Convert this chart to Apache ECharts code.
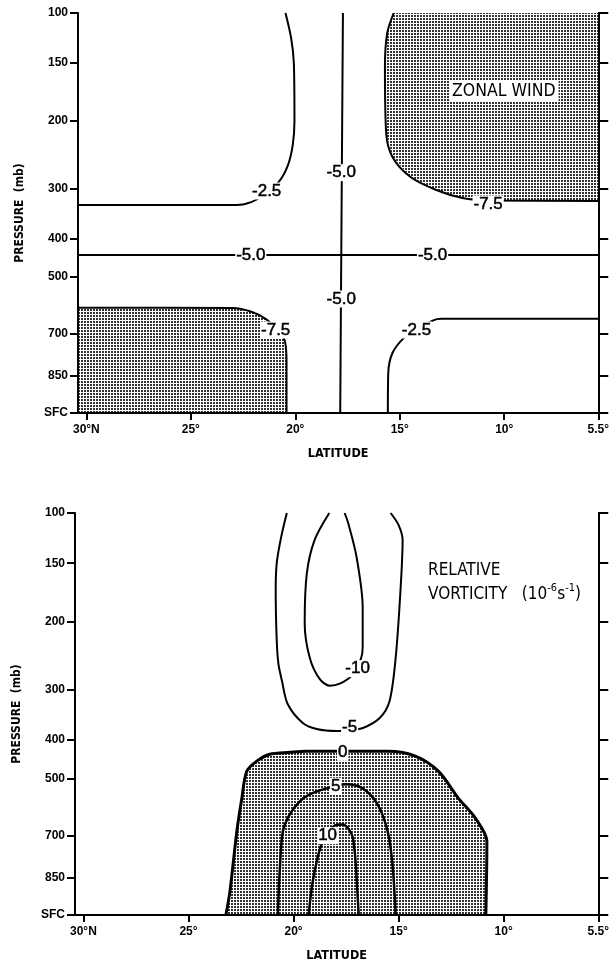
<!DOCTYPE html>
<html><head><meta charset="utf-8">
<script src="https://cdn.jsdelivr.net/npm/echarts@6/dist/echarts.min.js"></script>
<style>html,body{margin:0;padding:0;background:#fff}#c{width:612px;height:965px}</style>
</head><body><div id="c"></div>
<script>
// ---- vertical levels (pressure, label, chart height coordinate) ----
const levelPressure = [100,150,200,300,400,500,700,850,1000];
const levelLabels   = ['100','150','200','300','400','500','700','850','SFC'];
const levelHeight   = [16.5,14.44,12.05,9.24,7.18,5.61,3.26,1.53,0];
const latTicks = [30,25,20,15,10,5.5];

// ---- ZONAL WIND contours, points [latitude, pressure mb] ----
const uM25Upper = [[20.47,100],[20.2,125],[20.07,150],[20.04,200],[20.12,235],[20.35,265],[20.8,290],[21.4,305],[21.8,320],[22.4,330],[23.0,332],[30.4,332]];
const uM5Vert   = [[17.72,100],[17.8,442],[17.85,1000]];
const uM5Horiz  = [[30.4,442],[5.5,442]];
const uM75Upper = [[15.29,100],[15.6,120],[15.71,153],[15.65,218],[15.35,253],[14.5,282],[13.25,302],[12.0,318],[10.8,323],[5.5,324]];
const uM75Lower = [[30.4,608],[23.0,609],[22.1,622],[21.4,648],[20.85,685],[20.5,725],[20.42,800],[20.42,1000]];
const uM25Lower = [[5.5,647],[13.0,647],[13.4,652],[14.2,685],[14.8,714],[15.35,768],[15.55,839],[15.57,1000]];
const windLabels = [[21.37,304,'-2.5'],[17.8,276,'-5.0'],[22.13,442,'-5.0'],[13.43,442,'-5.0'],[17.8,577,'-5.0'],[10.77,330,'-7.5'],[20.94,686,'-7.5'],[14.2,686,'-2.5']];

// ---- RELATIVE VORTICITY contours ----
const vM10 = [[18.3,100],[19.0,127],[19.37,159],[19.47,203],[19.23,253],[18.76,284],[18.28,294],[17.8,291],[17.2,278],[16.8,255],[16.71,238],[16.71,188],[17.0,144],[17.4,110],[17.57,100]];
const vM5  = [[20.32,100],[20.6,125],[20.8,150],[20.85,173],[20.8,228],[20.72,262],[20.55,287],[20.28,328],[19.56,366],[18.9,378],[17.95,382],[17.3,380],[16.7,376],[15.9,356],[15.43,322],[15.14,253],[14.91,173],[14.81,127],[15.0,112],[15.38,100]];
const vZero = [[23.22,1000],[23.03,907],[22.7,686],[22.46,570],[22.23,482],[21.75,455],[21.13,437],[20.18,432],[19.42,429],[17.66,429],[15.48,429],[14.2,442],[13.1,482],[12.15,570],[11.34,640],[10.8,721],[10.85,1000]];
const vFive = [[20.75,1000],[20.66,829],[20.51,686],[20.18,626],[19.71,581],[19.23,556],[18.42,535],[17.52,521],[16.71,535],[16.0,591],[15.52,686],[15.29,804],[15.14,1000]];
const vTen  = [[19.28,1000],[19.09,866],[18.71,739],[18.38,700],[18.04,665],[17.66,661],[17.23,696],[17.09,757],[17.0,850],[16.9,1000]];
const vortLabels = [[16.95,269,'-10'],[17.33,374,'-5'],[17.66,432,'0'],[17.99,528,'5'],[18.38,700,'10']];

// pressure -> chart height coordinate (axis transform)
function pToH(p){
  for(let i=0;i<levelPressure.length-1;i++){
    const a=levelPressure[i], b=levelPressure[i+1];
    if(p>=a && p<=b){ const t=(p-a)/(b-a); return levelHeight[i]+t*(levelHeight[i+1]-levelHeight[i]); }
  }
  return p<100?levelHeight[0]:0;
}

// stipple pattern
const pc=document.createElement('canvas'); pc.width=3; pc.height=3;
const g=pc.getContext('2d'); g.fillStyle='#fff'; g.fillRect(0,0,3,3);
g.fillStyle='#333'; g.fillRect(0,0,2,2);
const stipple={image:pc, repeat:'repeat'};

const NARROW="'Liberation Sans Narrow','DejaVu Sans Condensed',sans-serif";
const SANS="'Liberation Sans',Arial,sans-serif";
const INK='#000';

function lineS(gi, pts, w){
  return {type:'line', xAxisIndex:gi*2, yAxisIndex:gi*2, data:pts.map(p=>[p[0],pToH(p[1])]),
    symbol:'none', smooth:0.3, silent:true, animation:false, z:3,
    lineStyle:{color:INK, width:w||2}};
}
function polyS(gi, pts, closing){
  const all=pts.concat(closing);
  return {type:'custom', xAxisIndex:gi*2, yAxisIndex:gi*2, data:[0], silent:true, animation:false, z:1,
    renderItem:(params, api)=>({type:'polygon',
      shape:{points: all.map(p=>api.coord([p[0],pToH(p[1])]))},
      style:{fill:stipple, stroke:null}})};
}
function labelS(gi, labs){
  return {type:'scatter', xAxisIndex:gi*2, yAxisIndex:gi*2, data:labs.map(l=>[l[0],pToH(l[1]),l[2]]),
    symbolSize:1, itemStyle:{color:'#fff', opacity:1}, silent:true, animation:false, z:5,
    label:{show:true, position:'inside', formatter:p=>p.value[2], color:INK, opacity:1, fontFamily:SANS, fontSize:17,
      fontWeight:'normal', textBorderColor:INK, textBorderWidth:0.5,
      backgroundColor:'#fff', padding:[0,1]}};
}

function xAxes(gi){
  return [{
    type:'value', gridIndex:gi, position:'bottom', min:5.5, max:30.4, inverse:true, z:10,
    name:'LATITUDE', nameLocation:'middle', nameGap:34,
    nameTextStyle:{fontFamily:NARROW, fontWeight:'bold', fontSize:12.5, color:INK},
    axisLine:{show:true, lineStyle:{color:INK, width:2}},
    axisTick:{show:true, length:7, lineStyle:{color:INK, width:2}, customValues:latTicks},
    axisLabel:{show:true, margin:11, customValues:latTicks, color:INK, fontFamily:SANS, fontWeight:'bold', fontSize:12,
      formatter:v=> v===30?'30°N':(v+'°')},
    splitLine:{show:false}
  },{
    type:'value', gridIndex:gi, position:'top', min:5.5, max:30.4, inverse:true, z:10,
    axisLine:{show:true, lineStyle:{color:INK, width:2}},
    axisTick:{show:false}, axisLabel:{show:false}, splitLine:{show:false}
  }];
}
function yAxes(gi){
  const fmt=v=>{const i=levelHeight.indexOf(v); return i>=0?levelLabels[i]:'';};
  return [{
    type:'value', gridIndex:gi, position:'left', min:0, max:16.5, z:10,
    name:'PRESSURE  (mb)', nameLocation:'middle', nameGap:52, nameRotate:90,
    nameTextStyle:{fontFamily:NARROW, fontWeight:'bold', fontSize:12, color:INK},
    axisLine:{show:true, lineStyle:{color:INK, width:2}},
    axisTick:{show:true, length:8, lineStyle:{color:INK, width:2}, customValues:levelHeight},
    axisLabel:{show:true, margin:10, customValues:levelHeight, formatter:fmt, color:INK, fontFamily:SANS, fontWeight:'bold', fontSize:12},
    splitLine:{show:false}
  },{
    type:'value', gridIndex:gi, position:'right', min:0, max:16.5, z:10,
    axisLine:{show:true, lineStyle:{color:INK, width:2}},
    axisTick:{show:true, length:10, lineStyle:{color:INK, width:2}, customValues:levelHeight},
    axisLabel:{show:false}, splitLine:{show:false}
  }];
}

const chart=echarts.init(document.getElementById('c'),null,{renderer:'canvas'});
chart.setOption({
  animation:false,
  backgroundColor:'#fff',
  grid:[{left:78, top:13, width:524, height:400},{left:75, top:513, width:525, height:402}],
  xAxis:[...xAxes(0), ...xAxes(1)],
  yAxis:[...yAxes(0), ...yAxes(1)],
  title:[{
    text:'ZONAL WIND', left:449, top:80, padding:[2,3], backgroundColor:'#fff',
    textStyle:{fontFamily:NARROW, fontSize:17.5, fontWeight:'normal', color:INK}
  },{
    text:'RELATIVE\nVORTICITY   {n|(10}{s|-6}{n|s}{s|-1}{n|)}', left:428, top:559, padding:0,
    textStyle:{fontFamily:NARROW, fontSize:17, fontWeight:'normal', color:INK, lineHeight:24,
      rich:{n:{fontFamily:NARROW, fontSize:17, color:INK, lineHeight:24},
            s:{fontFamily:NARROW, fontSize:11, color:INK, lineHeight:22, verticalAlign:'top'}}}
  }],
  series:[
    polyS(0, uM75Upper, [[5.5,100]]),
    polyS(0, uM75Lower, [[30.4,1000]]),
    lineS(0, uM25Upper), lineS(0, uM5Vert), lineS(0, uM5Horiz),
    lineS(0, uM75Upper), lineS(0, uM75Lower), lineS(0, uM25Lower),
    labelS(0, windLabels),
    polyS(1, vZero, []),
    lineS(1, vM10), lineS(1, vM5), lineS(1, vZero, 3), lineS(1, vFive, 2.5), lineS(1, vTen, 2.5),
    labelS(1, vortLabels)
  ]
});
</script></body></html>
